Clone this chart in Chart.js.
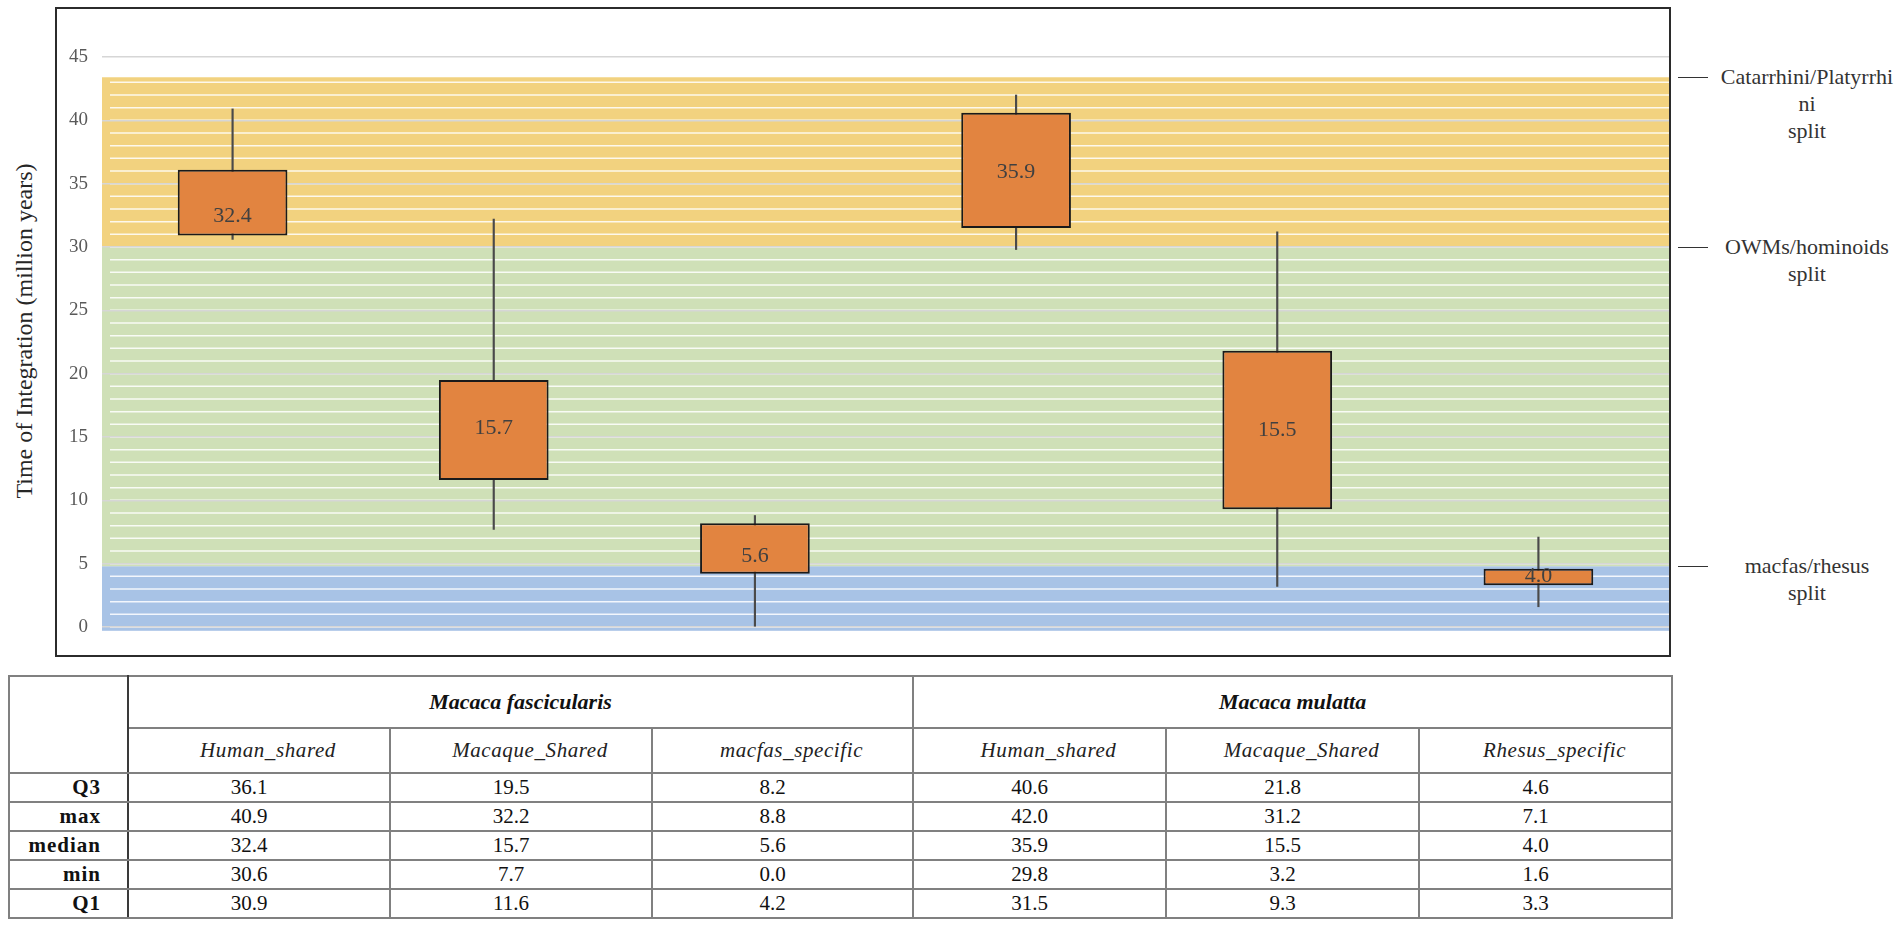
<!DOCTYPE html>
<html>
<head>
<meta charset="utf-8">
<script src="https://cdn.jsdelivr.net/npm/chart.js@4.4.1/dist/chart.umd.min.js"></script>
<style>
  body { margin: 0; background: #fff; }
  #page { position: relative; width: 1902px; height: 926px; font-family: "Liberation Serif", "Times New Roman", serif; }
  #frame { position: absolute; left: 55px; top: 7px; width: 1616px; height: 650px; border: 2px solid #2b2b2b; box-sizing: border-box; }
  #wrap { position: relative; width: 1612px; height: 646px; }
  #ytitle { position: absolute; left: 24px; top: 331px; transform: translate(-50%, -50%) rotate(-90deg); white-space: nowrap; font-size: 24px; color: #262626; }
  .note { position: absolute; white-space: nowrap; }
  .note .dash { position: absolute; left: 1678px; width: 30px; height: 0; border-top: 1.5px solid #333; }
  .note .txt { position: absolute; left: 1707px; width: 200px; text-align: center; font-size: 22px; line-height: 27px; color: #333; }
  table { position: absolute; left: 8px; top: 675px; width: 1663px; border-collapse: collapse; table-layout: fixed; font-size: 21px; color: #111; }
  td { border: 2px solid #808080; padding: 0; text-align: center; }
  td.lab { text-align: right; padding-right: 26px; font-weight: bold; letter-spacing: 1px; border-right: 2px solid #3a3a3a; }
  td.grp { font-weight: bold; font-style: italic; font-size: 22px; height: 50px; }
  td.sub { font-style: italic; height: 43px; letter-spacing: 0.6px; padding-left: 18px; color: #222; }
  td.val { height: 27px; padding-right: 20px; }
  td.split { border-left: 2px solid #3a3a3a; }
</style>
</head>
<body>
<div id="page">
  <div id="ytitle">Time of Integration (million years)</div>
  <div id="frame"><div id="wrap"><canvas id="plot"></canvas></div></div>
  <div id="notes"></div>
  <table id="tbl"></table>
</div>
<script>
const categories = ['Human_shared', 'Macaque_Shared', 'macfas_specific', 'Human_shared', 'Macaque_Shared', 'Rhesus_specific'];
const species = ['Macaca fascicularis', 'Macaca mulatta'];
const q3 = [36.1, 19.5, 8.2, 40.6, 21.8, 4.6];
const maxv = [40.9, 32.2, 8.8, 42.0, 31.2, 7.1];
const median = [32.4, 15.7, 5.6, 35.9, 15.5, 4.0];
const minv = [30.6, 7.7, 0.0, 29.8, 3.2, 1.6];
const q1 = [30.9, 11.6, 4.2, 31.5, 9.3, 3.3];

// background periods (million years)
const bandLow = [-0.3, 4.8, 30];
const bandHigh = [4.8, 30, 43.4];
const bandColors = ['#A8C3E6', '#CFE0B7', '#F2D27F'];
const splitValues = [43.4, 30, 4.8];
const splitNames = [['Catarrhini/Platyrrhi', 'ni', 'split'], ['OWMs/hominoids', 'split'], ['macfas/rhesus', 'split']];

const bands = {
    id: 'bands',
    beforeDraw(chart) {
        const ctx = chart.ctx, y = chart.scales.y, a = chart.chartArea;
        ctx.save();
        for (let i = 0; i < bandLow.length; i++) {
            const top = y.getPixelForValue(bandHigh[i]);
            const bot = y.getPixelForValue(bandLow[i]);
            ctx.fillStyle = bandColors[i];
            ctx.fillRect(a.left, top, a.right - a.left, bot - top);
            ctx.strokeStyle = 'rgba(255,255,255,0.85)';
            ctx.lineWidth = 1.5;
            for (let v = Math.ceil(bandLow[i]); v < bandHigh[i]; v++) {
                const py = y.getPixelForValue(v);
                ctx.beginPath();
                ctx.moveTo(a.left + 8, py);
                ctx.lineTo(a.right, py);
                ctx.stroke();
            }
        }
        ctx.restore();
    }
};

const medianLabels = {
    id: 'medianLabels',
    afterDatasetsDraw(chart) {
        const ctx = chart.ctx, y = chart.scales.y;
        const meta = chart.getDatasetMeta(1);
        ctx.save();
        ctx.font = '22px "Liberation Serif"';
        ctx.fillStyle = '#404040';
        ctx.textAlign = 'center';
        ctx.textBaseline = 'middle';
        median.forEach((m, i) => {
            ctx.fillText(m.toFixed(1), meta.data[i].x, y.getPixelForValue(m));
        });
        ctx.restore();
    }
};

const splitNotes = {
    id: 'splitNotes',
    afterRender(chart) {
        const holder = document.getElementById('notes');
        const wrap = document.getElementById('wrap');
        const off = wrap.getBoundingClientRect().top - document.getElementById('page').getBoundingClientRect().top;
        holder.innerHTML = '';
        splitValues.forEach((v, i) => {
            const py = off + chart.scales.y.getPixelForValue(v);
            const n = document.createElement('div');
            n.className = 'note';
            n.innerHTML = '<div class="dash" style="top:' + py + 'px"></div>' +
                '<div class="txt" style="top:' + (py - 14) + 'px">' + splitNames[i].join('<br>') + '</div>';
            holder.appendChild(n);
        });
    }
};

const ctx = document.getElementById('plot').getContext('2d');
const myChart = new Chart(ctx, {
    type: 'bar',
    data: {
        labels: categories,
        datasets: [{
            label: 'range',
            data: minv.map((v, i) => [v, maxv[i]]),
            backgroundColor: '#4a4a4a',
            barThickness: 1.5,
            grouped: false,
            order: 2
        }, {
            label: 'box',
            data: q1.map((v, i) => [v, q3[i]]),
            backgroundColor: '#E28440',
            borderColor: '#1a1a1a',
            borderWidth: 2,
            borderSkipped: false,
            categoryPercentage: 1,
            barPercentage: 0.42,
            grouped: false,
            order: 1
        }]
    },
    options: {
        responsive: true,
        maintainAspectRatio: false,
        animation: false,
        layout: { padding: { top: 48, bottom: 28, left: 0, right: 0 } },
        plugins: { legend: { display: false }, tooltip: { enabled: false } },
        scales: {
            x: { display: false },
            y: {
                min: 0,
                max: 45,
                afterFit(scale) { scale.width = 45; },
                ticks: { stepSize: 5, padding: 14, color: '#595959', font: { family: 'Liberation Serif', size: 19 } },
                grid: { color: '#D6D6D6', lineWidth: 1.5, drawTicks: false },
                border: { display: false }
            }
        }
    },
    plugins: [bands, medianLabels, splitNotes]
});

// stats table under the chart
const rowNames = ['Q3', 'max', 'median', 'min', 'Q1'];
const rowData = [q3, maxv, median, minv, q1];
const widths = [119, 262, 262, 261, 253, 253, 253];
let html = '<colgroup>' + widths.map(w => '<col style="width:' + w + 'px">').join('') + '</colgroup>';
html += '<tr><td class="lab" rowspan="2"></td><td class="grp" colspan="3">' + species[0] +
    '</td><td class="grp split" colspan="3">' + species[1] + '</td></tr>';
html += '<tr>' + categories.map((c, i) => '<td class="sub' + (i === 3 ? ' split' : '') + '">' + c + '</td>').join('') + '</tr>';
rowNames.forEach((r, k) => {
    html += '<tr><td class="lab">' + r + '</td>' +
        rowData[k].map((v, i) => '<td class="val' + (i === 3 ? ' split' : '') + '">' + v.toFixed(1) + '</td>').join('') + '</tr>';
});
document.getElementById('tbl').innerHTML = html;
</script>
</body>
</html>
